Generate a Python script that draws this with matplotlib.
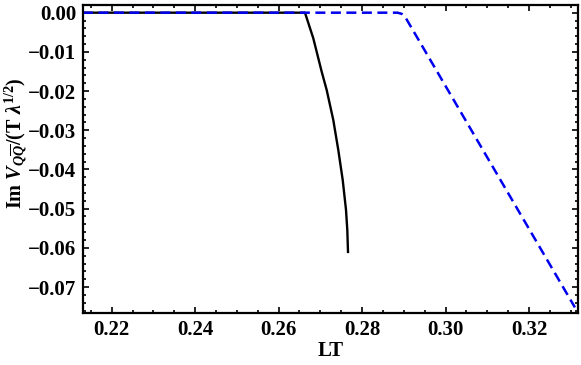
import numpy as np
import matplotlib
matplotlib.use("Agg")
import matplotlib.pyplot as plt
from matplotlib.ticker import MultipleLocator, FuncFormatter

plt.rcParams['font.family'] = 'Liberation Serif'
plt.rcParams['font.weight'] = 'bold'
plt.rcParams['mathtext.fontset'] = 'custom'
plt.rcParams['mathtext.rm'] = 'Liberation Serif:bold'
plt.rcParams['mathtext.it'] = 'Liberation Serif:italic:bold'
plt.rcParams['mathtext.bf'] = 'Liberation Serif:bold'

#--------- data ---------
# black solid curve
lt_black = [0.2131, 0.26632, 0.26831, 0.27032, 0.27152, 0.27310,
            0.27430, 0.27536, 0.27615, 0.27646, 0.27663]
im_black = [0.0, 0.0, -0.00653, -0.01505, -0.01972, -0.02737,
            -0.03503, -0.04268, -0.05033, -0.05543, -0.06105]

# blue dashed curve
lt_blue = [0.2131, 0.2885, 0.2895, 0.2905, 0.3310]
im_blue = [0.0, 0.0, -0.0003, -0.0014, -0.0752]

fig = plt.figure(figsize=(5.81, 3.65), dpi=100)
ax = fig.add_axes([83/581, 1-313/365, (578-83)/581, (313-5)/365])

ax.plot(lt_black, im_black, color="black", lw=1.7)
ax.plot(lt_blue, im_blue, color="#0000ee", lw=1.8, dashes=(4, 2.2))

ax.set_xlim(0.21313, 0.33174)
ax.set_ylim(-0.07663, 0.00196)

def fmt(v, pos):
    s = "%.2f" % v
    if s == "-0.00":
        s = "0.00"
    return s.replace("-", "\u2212")

ax.xaxis.set_major_locator(MultipleLocator(0.02))
ax.xaxis.set_minor_locator(MultipleLocator(0.005))
ax.yaxis.set_major_locator(MultipleLocator(0.01))
ax.yaxis.set_minor_locator(MultipleLocator(0.002))
ax.xaxis.set_major_formatter(FuncFormatter(fmt))
ax.yaxis.set_major_formatter(FuncFormatter(fmt))

ax.tick_params(which="both", direction="in", top=True, right=True, width=1.2)
ax.tick_params(which="major", length=4, labelsize=15, pad=5)
ax.tick_params(which="minor", length=2)
for s in ax.spines.values():
    s.set_linewidth(1.6)

ax.set_xlabel("LT", fontsize=15, fontweight="bold", labelpad=1)
ax.set_ylabel(r"$\mathrm{Im}\ V_{Q\overline{Q}}/(\mathrm{T}\ \lambda^{1/2})$", fontsize=14.5)
ax.yaxis.set_label_coords(-0.108, 0.55)

fig.savefig("out.png", dpi=100)
